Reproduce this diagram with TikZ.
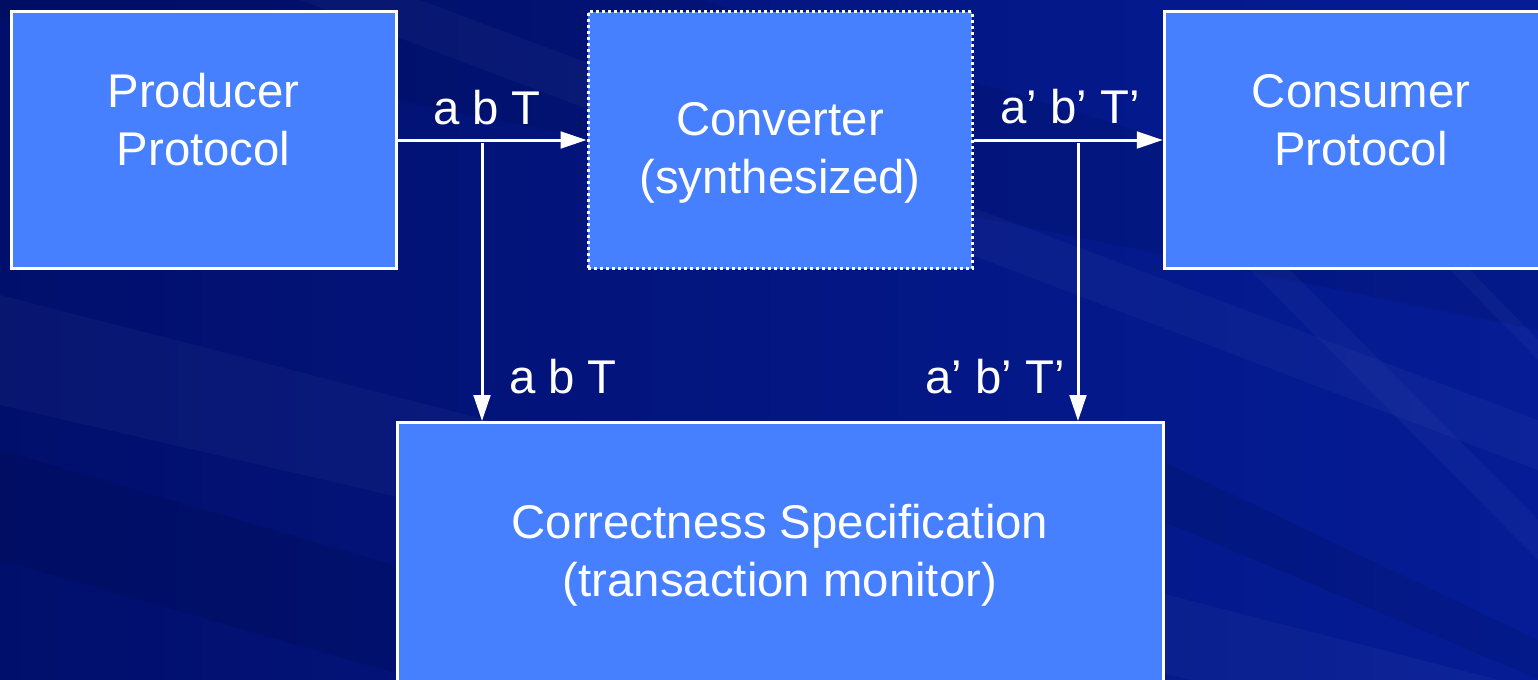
\documentclass[tikz,border=0pt]{standalone}
\usepackage{fontspec}
\setmainfont{Liberation Sans}
\usetikzlibrary{arrows.meta}
\definecolor{slidedark}{RGB}{1,15,108}
\definecolor{slidelight}{RGB}{5,28,150}
\definecolor{boxblue}{RGB}{70,128,255}
\begin{document}
\begin{tikzpicture}[x=0.75pt,y=-0.75pt,
  blk/.style={draw=white, line width=2.25pt, fill=boxblue, inner sep=0pt},
  dotblk/.style={blk, dash pattern=on 2.25pt off 2.25pt},
  lbl/.style={text=white, font=\fontsize{35.5}{43.5}\selectfont, align=center, inner sep=0pt, anchor=base},
  arr/.style={draw=white, line width=2.25pt, -{Triangle[length=19.5pt,width=12.5pt]}},
  streak/.style={fill=white, opacity=0.03},
  shadowband/.style={fill=black, opacity=0.08},
]
\useasboundingbox (0,0) rectangle (1538,679);
\clip (0,0) rectangle (1538,679);

% slide background with faint diagonal bands
\shade[left color=slidedark, right color=slidelight] (0,0) rectangle (1538,679);
\fill[shadowband] (0,0) -- (700,0) -- (1538,250) -- (1538,330) -- (0,20) -- cycle;
\fill[streak] (0,295) -- (1538,690) -- (1538,760) -- (0,405) -- cycle;
\fill[shadowband] (0,450) -- (1538,900) -- (1538,1000) -- (0,560) -- cycle;
\fill[streak] (1250,270) -- (1290,270) -- (1538,520) -- (1538,560) -- cycle;
\fill[shadowband] (1160,460) -- (1538,640) -- (1538,679) -- (1160,520) -- cycle;
\fill[streak] (1450,270) -- (1470,270) -- (1538,340) -- (1538,360) -- cycle;
\fill[streak] (300,0) -- (420,0) -- (1538,420) -- (1538,470) -- cycle;

% blocks
\node[blk, minimum width=288.4pt, minimum height=192.75pt] (prod) at (203.75,140) {};
\node[dotblk, minimum width=288pt, minimum height=192.75pt] (conv) at (780,140) {};
\node[blk, minimum width=296.6pt, minimum height=192.75pt] (cons) at (1362,140) {};
\node[blk, minimum width=574.5pt, minimum height=223.1pt] (corr) at (780,571.25) {};

% block captions (anchored on the baseline of their last line)
\node[lbl] (prodtxt) at (203.5,165) {Producer\\Protocol};
\node[lbl] (convtxt) at (780,193) {Converter\\(synthesized)};
\node[lbl] (constxt) at (1361,165) {Consumer\\Protocol};
\node[lbl] (corrtxt) at (780,596) {Correctness Specification\\(transaction monitor)};

% signal connectors
\draw[arr] (prod) -- (conv);
\draw[arr] (conv) -- (cons);
\coordinate (tapin) at (482,143);
\coordinate (tapout) at (1078,143);
\draw[arr] (tapin) -- (tapin |- corr.north);
\draw[arr] (tapout) -- (tapout |- corr.north);

% signal labels
\node[lbl] (inlbl) at (487,124) {a b T};
\node[lbl] (outlbl) at (1070,123) {a’ b’ T’};
\node[lbl] (inmon) at (563,393) {a b T};
\node[lbl] (outmon) at (995,393) {a’ b’ T’};
\end{tikzpicture}
\end{document}
